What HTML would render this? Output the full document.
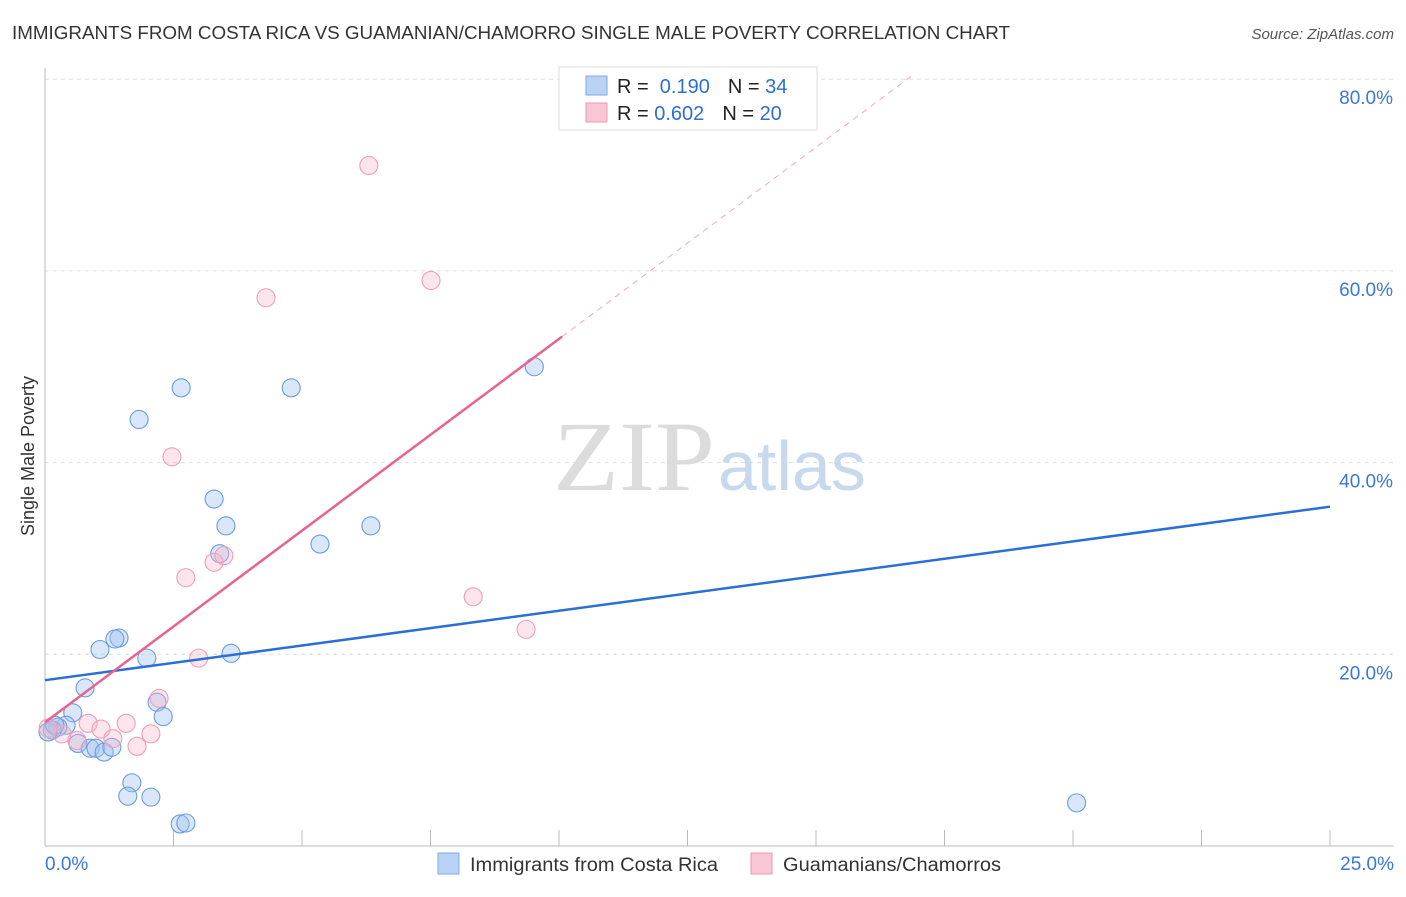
<!DOCTYPE html>
<html><head><meta charset="utf-8"><style>
body{margin:0;background:#fff;font-family:"Liberation Sans",sans-serif}
</style></head><body>
<svg id="c" width="1406" height="892" xmlns="http://www.w3.org/2000/svg" font-family="Liberation Sans, sans-serif">
<text x="12" y="39" font-size="18" fill="#333" textLength="998" lengthAdjust="spacingAndGlyphs">IMMIGRANTS FROM COSTA RICA VS GUAMANIAN/CHAMORRO SINGLE MALE POVERTY CORRELATION CHART</text>
<text x="1394" y="39" font-size="15" fill="#555" font-style="italic" text-anchor="end">Source: ZipAtlas.com</text>
<text x="34" y="456" font-size="18" fill="#333" transform="rotate(-90 34 456)" text-anchor="middle">Single Male Poverty</text>
<g id="grid"></g>
<text x="553" y="490" font-size="100" fill="#dcdcdc" style="font-family:'Liberation Serif',serif" textLength="162" lengthAdjust="spacingAndGlyphs">ZIP</text>
<text x="718" y="490" font-size="70" fill="#c8d8ee">atlas</text>
<g id="marks"></g>
<g>
<rect x="559" y="67" width="258" height="63" fill="#fff" stroke="#ddd"/>
<rect x="586" y="76" width="21" height="19" fill="#b9d3f5" stroke="#7ea8e6"/>
<rect x="586" y="103" width="21" height="19" fill="#f8c6d5" stroke="#eb98b2"/>
<text x="617" y="93" font-size="20" fill="#222">R = <tspan fill="#2f6fcf">&#160;0.190</tspan><tspan dx="18">N = </tspan><tspan fill="#2f6fcf">34</tspan></text>
<text x="617" y="120" font-size="20" fill="#222">R = <tspan fill="#2f6fcf">0.602</tspan><tspan dx="18">N = </tspan><tspan fill="#2f6fcf">20</tspan></text>
</g>
<g>
<rect x="438" y="853" width="21" height="21" fill="#b9d3f5" stroke="#7ea8e6"/>
<text x="470" y="871" font-size="19" fill="#333" textLength="248" lengthAdjust="spacingAndGlyphs">Immigrants from Costa Rica</text>
<rect x="751" y="853" width="21" height="21" fill="#f8c6d5" stroke="#eb98b2"/>
<text x="783" y="871" font-size="19" fill="#333" textLength="218" lengthAdjust="spacingAndGlyphs">Guamanians/Chamorros</text>
</g>
</svg>
<script>
const yTicks=[20,40,60,80];
const xTickLabels=["0.0%","25.0%"];
const blueX=[9.52,2.65,4.79,1.83,3.29,3.52,6.34,5.35,3.40,1.44,1.36,1.07,1.98,3.62,0.78,2.18,2.30,0.54,0.41,0.25,0.14,0.06,0.64,0.88,0.99,1.15,1.30,1.69,1.61,2.06,2.63,2.74,20.07,0.19];
const blueY=[50.0,47.8,47.8,44.5,36.2,33.4,33.4,31.5,30.5,21.7,21.6,20.5,19.6,20.1,16.5,15.0,13.5,13.9,12.6,12.4,12.1,11.9,10.7,10.2,10.2,9.8,10.3,6.6,5.2,5.1,2.3,2.4,4.5,12.6];
const pinkX=[6.30,7.51,4.30,2.47,3.29,3.48,2.74,8.33,9.36,2.99,2.22,2.06,1.58,0.84,1.09,1.32,1.79,0.62,0.33,0.06];
const pinkY=[71.0,59.0,57.2,40.6,29.6,30.3,28.0,26.0,22.6,19.6,15.4,11.7,12.8,12.8,12.2,11.2,10.4,11.0,11.7,12.3];
const blueLine=[17.3,35.4];
const pinkLine=[12.9,4.0];
const X=v=>45+v*51.4, Y=v=>846-v*9.585;
const ns="http://www.w3.org/2000/svg";
function mk(t,a,p){const e=document.createElementNS(ns,t);for(const k in a)e.setAttribute(k,a[k]);p.appendChild(e);return e;}
const g=document.getElementById('grid'),m=document.getElementById('marks');
for(const t of yTicks){
 const l=mk('line',{x1:45,x2:1394,y1:Y(t),y2:Y(t),stroke:'#ddd','stroke-dasharray':'4,4'},g);
 
 
 const tx=mk('text',{x:1393,y:Y(t)+25,'font-size':19,fill:'#3a78d4','text-anchor':'end'},g);tx.textContent=t.toFixed(1)+'%';
 
 
}
mk('line',{x1:45,x2:45,y1:68,y2:846,stroke:'#bbb'},g);
mk('line',{x1:45,x2:1394,y1:846,y2:846,stroke:'#bbb'},g);
for(let i=1;i<=10;i++){const l=mk('line',{x1:X(i*2.5),x2:X(i*2.5),y1:830,y2:846,stroke:'#bbb'},g);
 
 }
xTickLabels.forEach((s,i)=>{const t=mk('text',{x:i?1394:45,y:870,'font-size':19,fill:'#3a78d4','text-anchor':i?'end':'start'},g);t.textContent=s;
 
 });
blueX.forEach((x,i)=>{const c=mk('circle',{cx:X(x),cy:Y(blueY[i]),r:9,fill:'rgba(160,195,240,0.4)',stroke:'#6a9ce0','stroke-width':1.1},m);
 
 });
pinkX.forEach((x,i)=>{const c=mk('circle',{cx:X(x),cy:Y(pinkY[i]),r:9,fill:'rgba(245,180,200,0.35)',stroke:'#eda0b8','stroke-width':1.1},m);
 
 });
const bl=mk('line',{x1:X(0),y1:Y(blueLine[0]),x2:X(25),y2:Y(blueLine[1]),stroke:'#2a6fd6','stroke-width':2.5},m);


const pe=10.06, pd=(80.3-pinkLine[0])/pinkLine[1];
const pl=mk('line',{x1:X(0),y1:Y(pinkLine[0]),x2:X(pe),y2:Y(pinkLine[0]+pinkLine[1]*pe),stroke:'#e8648f','stroke-width':2.5},m);


const pdl=mk('line',{x1:X(pe),y1:Y(pinkLine[0]+pinkLine[1]*pe),x2:X(pd),y2:Y(80.3),stroke:'#eeaabf','stroke-width':1,'stroke-dasharray':'6,5'},m);


</script>
</body></html>
